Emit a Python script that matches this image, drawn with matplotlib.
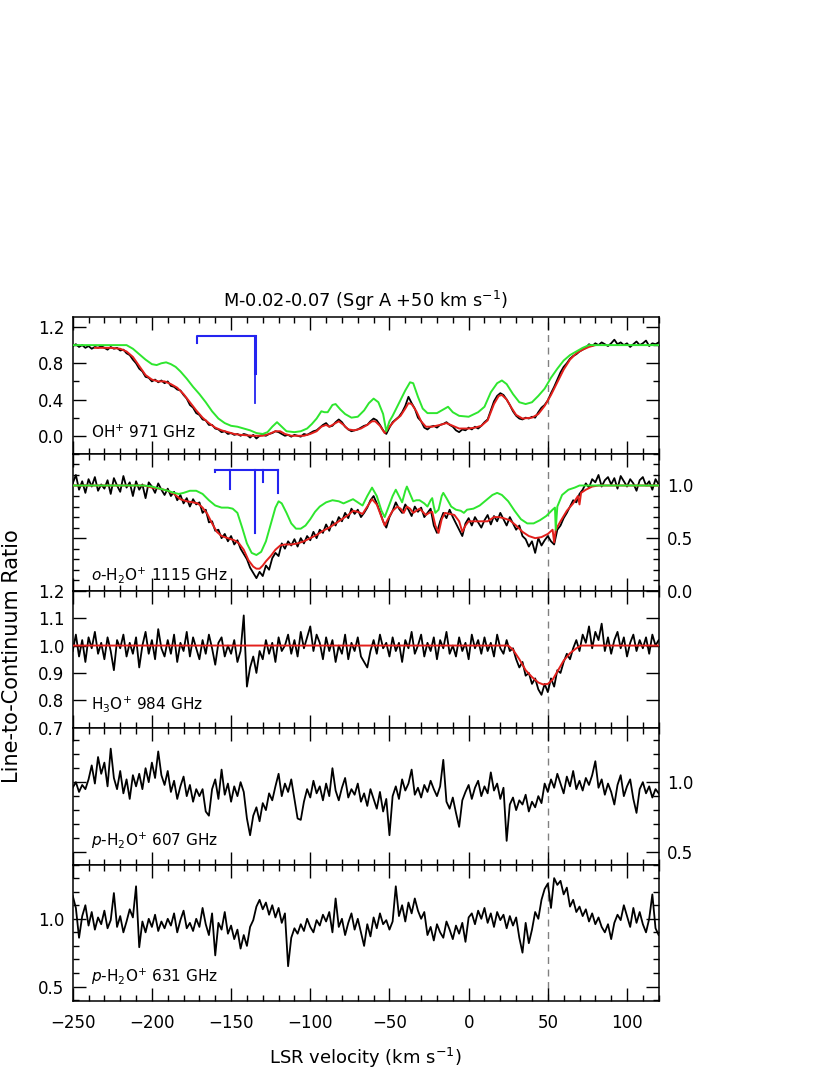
import numpy as np
import matplotlib
matplotlib.use("Agg")
import matplotlib.pyplot as plt
from matplotlib.ticker import MultipleLocator, FormatStrFormatter

plt.rcParams['font.family'] = ['DejaVu Sans']
plt.rcParams['mathtext.fontset'] = 'dejavusans'

# ---------------- data (channel grid: -250 km/s, step 2 km/s) ----------------
V_START = -250.0
V_STEP = 2.0

oh_obs = [
    0.99, 1.01, 0.98, 1.00, 0.97, 0.99, 0.96, 0.98, 0.97, 0.99,
    0.97, 0.95, 0.98, 0.96, 0.97, 0.94, 0.95, 0.91, 0.89, 0.84,
    0.80, 0.74, 0.71, 0.65, 0.64, 0.60, 0.62, 0.59, 0.61, 0.58,
    0.60, 0.55, 0.54, 0.51, 0.50, 0.45, 0.41, 0.34, 0.31, 0.25,
    0.23, 0.18, 0.17, 0.12, 0.12, 0.08, 0.07, 0.04, 0.05, 0.02,
    0.03, 0.01, 0.02, 0.00, 0.02, 0.01, -0.02, 0.01, -0.03, 0.00,
    0.01, 0.00, 0.02, 0.03, 0.05, 0.04, 0.02, 0.00, 0.01, -0.01,
    0.01, 0.00, -0.01, 0.02, 0.01, 0.03, 0.05, 0.06, 0.09, 0.12,
    0.14, 0.10, 0.11, 0.15, 0.18, 0.15, 0.10, 0.07, 0.05, 0.06,
    0.07, 0.09, 0.11, 0.12, 0.16, 0.19, 0.17, 0.12, 0.06, 0.02,
    0.09, 0.15, 0.18, 0.21, 0.26, 0.33, 0.43, 0.36, 0.30, 0.20,
    0.16, 0.09, 0.07, 0.10, 0.11, 0.09, 0.12, 0.13, 0.15, 0.12,
    0.10, 0.06, 0.04, 0.07, 0.06, 0.09, 0.07, 0.10, 0.08, 0.11,
    0.15, 0.18, 0.28, 0.38, 0.44, 0.47, 0.45, 0.40, 0.34, 0.27,
    0.22, 0.19, 0.18, 0.20, 0.19, 0.21, 0.20, 0.26, 0.31, 0.34,
    0.39, 0.47, 0.54, 0.62, 0.70, 0.76, 0.80, 0.85, 0.88, 0.90,
    0.93, 0.95, 0.97, 1.01, 0.99, 1.02, 1.00, 1.03, 1.01, 0.99,
    1.02, 1.06, 1.01, 1.03, 1.00, 1.02, 0.98, 1.01, 1.04, 1.00,
    1.02, 1.05, 0.99, 1.02, 1.01, 1.03,
]

oh_fit_v = [-236, -226, -220, -216, -212, -208, -204, -200, -196, -192, -188, -184,
            -180, -176, -172, -168, -164, -160, -156, -152, -148, -144, -136, -130,
            -126, -122, -119, -116, -112, -104, -100, -96, -93, -90, -88, -85, -82,
            -79, -76, -72, -68, -64, -61, -59, -56, -53, -50, -47, -43, -40, -38,
            -36, -33, -30, -27, -23, -18, -14, -10, -6, 0, 4, 8, 12, 16, 19, 21, 24,
            27, 30, 34, 40, 44, 48, 52, 56, 60, 64, 68, 72, 76, 80]
oh_fit = [0.97, 0.97, 0.96, 0.93, 0.87, 0.77, 0.67, 0.62, 0.60, 0.60, 0.57, 0.53,
          0.46, 0.37, 0.28, 0.20, 0.14, 0.09, 0.06, 0.04, 0.02, 0.01, 0.00, 0.00,
          0.02, 0.05, 0.05, 0.02, 0.00, 0.00, 0.02, 0.05, 0.10, 0.12, 0.10, 0.13, 0.16,
          0.12, 0.07, 0.06, 0.08, 0.12, 0.16, 0.16, 0.11, 0.03, 0.10, 0.16, 0.22, 0.30, 0.36,
          0.35, 0.27, 0.16, 0.10, 0.10, 0.12, 0.14, 0.11, 0.08, 0.08, 0.09, 0.11, 0.17, 0.35, 0.44, 0.45, 0.40,
          0.31, 0.23, 0.19, 0.20, 0.24, 0.33, 0.45, 0.59, 0.73, 0.84, 0.91, 0.95, 0.98, 1.00]

oh_h2o_v = [-250, -216, -212, -208, -204, -200, -197, -194, -191, -188, -185, -182, -178,
            -174, -170, -166, -162, -158, -154, -150, -146, -142, -138, -134, -130, -127,
            -124, -121, -118, -115, -110, -106, -102, -99, -96, -93, -91, -89, -86, -84,
            -81, -78, -74, -70, -66, -63, -60, -57, -54, -52, -50, -48, -44, -40, -37,
            -35, -32, -29, -26, -20, -16, -13, -10, -6, 0, 6, 10, 14, 18, 21, 24, 28, 32,
            36, 40, 44, 48, 52, 56, 60, 64, 68, 72, 76, 120]
oh_h2o = [1.00, 1.00, 0.96, 0.90, 0.84, 0.79, 0.78, 0.80, 0.81, 0.79, 0.76, 0.71, 0.63,
          0.54, 0.46, 0.37, 0.27, 0.19, 0.14, 0.11, 0.10, 0.08, 0.06, 0.03, 0.02, 0.04,
          0.10, 0.15, 0.10, 0.05, 0.04, 0.05, 0.08, 0.13, 0.19, 0.27, 0.26, 0.26, 0.34, 0.35,
          0.29, 0.24, 0.20, 0.21, 0.28, 0.36, 0.41, 0.37, 0.24, 0.05, 0.16, 0.22, 0.36, 0.50, 0.59,
          0.58, 0.43, 0.30, 0.25, 0.25, 0.29, 0.32, 0.26, 0.22, 0.21, 0.26, 0.32, 0.48, 0.58, 0.61, 0.57, 0.46, 0.37,
          0.35, 0.37, 0.44, 0.52, 0.64, 0.74, 0.83, 0.89, 0.93, 0.97, 1.00, 1.00]

oh_comp_v = [-171.5, -135.0]
oh_comp_top = [1.10, 1.10]
oh_comp_bottom = [1.02, 0.69]
oh_comp_weak_v = -135.0
oh_comp_weak_bottom = 0.36

oh2o_obs = [
    1.02, 1.10, 0.96, 1.04, 0.93, 1.06, 0.99, 1.08, 0.95, 1.01,
    0.97, 1.05, 0.92, 1.07, 1.00, 0.94, 1.09, 0.98, 1.03, 0.90,
    1.04, 0.96, 1.01, 0.88, 1.03, 0.99, 0.93, 1.02, 0.96, 0.91,
    0.97, 0.90, 0.94, 0.86, 0.91, 0.83, 0.88, 0.80, 0.87, 0.82,
    0.84, 0.74, 0.77, 0.65, 0.66, 0.57, 0.58, 0.50, 0.54, 0.47,
    0.52, 0.44, 0.48, 0.40, 0.35, 0.30, 0.22, 0.17, 0.12, 0.18,
    0.14, 0.24, 0.20, 0.31, 0.36, 0.33, 0.45, 0.40, 0.47, 0.43,
    0.49, 0.42, 0.50, 0.45, 0.52, 0.48, 0.56, 0.50, 0.58, 0.55,
    0.63, 0.57, 0.66, 0.62, 0.70, 0.66, 0.74, 0.69, 0.78, 0.73,
    0.77, 0.70, 0.74, 0.79, 0.86, 0.90, 0.83, 0.75, 0.66, 0.60,
    0.70, 0.76, 0.84, 0.78, 0.74, 0.82, 0.77, 0.71, 0.80, 0.75,
    0.79, 0.70, 0.74, 0.78, 0.62, 0.55, 0.66, 0.74, 0.69, 0.77,
    0.70, 0.64, 0.58, 0.52, 0.64, 0.69, 0.62, 0.70, 0.65, 0.60,
    0.67, 0.72, 0.63, 0.71, 0.66, 0.74, 0.68, 0.62, 0.70, 0.64,
    0.58, 0.62, 0.52, 0.49, 0.42, 0.47, 0.36, 0.50, 0.43, 0.48,
    0.52, 0.47, 0.44, 0.58, 0.62, 0.69, 0.74, 0.80, 0.86, 0.84,
    0.92, 0.96, 1.02, 0.98, 1.06, 1.03, 1.10, 0.99, 1.05, 1.08,
    1.01, 1.07, 0.97, 1.09, 1.04, 0.99, 1.06, 1.02, 0.95, 1.05,
    1.08, 1.00, 1.04, 0.96, 1.06, 1.01,
]

oh2o_fit_v = [-250, -205, -200, -195, -190, -186, -182, -178, -174, -171, -168, -165,
              -162, -159, -156, -152, -148, -145, -142, -139, -136, -134, -132, -130,
              -128, -125, -122, -119, -116, -112, -108, -104, -100, -96, -92, -88, -84,
              -80, -76, -73, -70, -67, -64, -61, -58, -55, -53, -51, -48, -45, -43, -41,
              -39, -37, -35, -33, -31, -29, -27, -25, -23, -21, -19, -17, -15, -12, -9,
              -6, -4, -2, 0, 4, 8, 12, 16, 19, 22, 26, 30, 34, 38, 42, 46, 50, 53, 54,
              55, 58, 62, 66, 69, 70, 71, 74, 78, 82, 120]
oh2o_fit = [1.00, 1.00, 0.98, 0.97, 0.95, 0.92, 0.87, 0.85, 0.84, 0.83, 0.79, 0.73,
            0.64, 0.56, 0.52, 0.50, 0.48, 0.45, 0.39, 0.29, 0.23, 0.21, 0.21, 0.24,
            0.28, 0.33, 0.39, 0.43, 0.44, 0.44, 0.45, 0.47, 0.50, 0.53, 0.57, 0.60, 0.64,
            0.68, 0.72, 0.76, 0.75, 0.73, 0.80, 0.87, 0.82, 0.70, 0.62, 0.68, 0.76, 0.80, 0.78, 0.74,
            0.80, 0.78, 0.74, 0.76, 0.78, 0.75, 0.72, 0.74, 0.75, 0.62, 0.55, 0.68, 0.74, 0.73, 0.72,
            0.66, 0.56, 0.62, 0.66, 0.66, 0.66, 0.66, 0.70, 0.70, 0.69, 0.67, 0.62, 0.56, 0.52, 0.50, 0.51, 0.54, 0.58, 0.46,
            0.58, 0.66, 0.76, 0.83, 0.90, 0.82, 0.93, 0.96, 0.99, 1.00, 1.00]

oh2o_h2o_v = [-250, -205, -200, -195, -190, -186, -183, -180, -176, -172, -168, -164,
              -160, -156, -152, -149, -146, -143, -140, -137, -134, -131, -128, -125,
              -122, -120, -118, -115, -112, -109, -106, -103, -100, -97, -94, -90, -86,
              -82, -79, -76, -73, -70, -67, -64, -61, -58, -55, -53, -51, -48, -46, -44,
              -42, -40, -39, -37, -35, -33, -31, -28, -26, -24, -23, -22, -21, -19, -17,
              -16, -14, -11, -8, -5, -3, -1, 3, 7, 11, 15, 18, 21, 25, 29, 33, 37, 41, 45,
              49, 53, 54.5, 55, 56, 59, 63, 67, 70, 120]
oh2o_h2o = [1.00, 1.00, 0.99, 0.97, 0.95, 0.93, 0.92, 0.93, 0.95, 0.95, 0.92, 0.86,
            0.81, 0.79, 0.79, 0.78, 0.74, 0.60, 0.45, 0.36, 0.34, 0.37, 0.47, 0.63,
            0.79, 0.85, 0.83, 0.74, 0.64, 0.59, 0.59, 0.62, 0.68, 0.75, 0.80, 0.84, 0.86,
            0.85, 0.83, 0.85, 0.87, 0.84, 0.81, 0.90, 0.98, 0.90, 0.76, 0.70, 0.78, 0.90, 0.96, 0.90,
            0.84, 0.95, 0.99, 0.92, 0.85, 0.86, 0.86, 0.83, 0.80, 0.86, 0.88, 0.80, 0.74, 0.77, 0.90,
            0.93, 0.88, 0.80, 0.77, 0.76, 0.74, 0.77, 0.78, 0.81, 0.86, 0.91, 0.93, 0.91, 0.85, 0.76, 0.68, 0.64, 0.64, 0.67,
            0.71, 0.77, 0.79, 0.58, 0.80, 0.91, 0.96, 0.98, 1.00, 1.00]

oh2o_comb_left, oh2o_comb_right, oh2o_comb_top = -160.2, -120.2, 1.148
oh2o_comp_v = [-160.2, -150.7, -135.0, -130.0, -120.2]
oh2o_comp_bottom = [1.13, 0.97, 0.55, 1.03, 0.93]

h3o_obs = [
    0.98, 1.04, 0.96, 1.02, 0.94, 1.03, 0.99, 1.05, 0.97, 1.01,
    0.95, 1.03, 0.98, 0.91, 1.02, 0.99, 1.04, 0.96, 1.01, 0.97,
    1.03, 0.92, 1.00, 1.05, 0.97, 1.02, 0.95, 1.06, 0.99, 0.96,
    1.02, 0.97, 1.04, 0.94, 1.01, 0.98, 1.05, 0.96, 1.03, 0.99,
    0.95, 1.02, 0.97, 1.04, 0.99, 0.93, 1.01, 1.03, 0.96, 1.00,
    0.97, 1.02, 0.94, 0.98, 1.11, 0.85, 0.92, 0.96, 0.90, 0.98,
    0.95, 1.02, 0.97, 1.01, 0.94, 1.03, 0.98, 1.00, 1.04, 0.97,
    1.02, 0.96, 1.05, 0.99, 1.03, 1.07, 0.98, 1.04, 1.01, 0.95,
    1.03, 0.98, 1.02, 0.94, 1.00, 0.97, 1.04, 0.95, 1.01, 0.98,
    1.03, 0.96, 0.94, 0.92, 0.98, 1.02, 0.97, 1.04, 0.99, 1.01,
    0.96, 1.03, 0.98, 1.01, 0.94, 1.02, 0.99, 1.05, 0.97, 1.00,
    1.04, 0.96, 1.01, 0.98, 1.03, 0.95, 1.02, 0.99, 1.05, 0.97,
    1.00, 0.96, 1.03, 0.98, 1.01, 0.95, 1.04, 0.99, 1.02, 0.97,
    1.03, 0.98, 1.01, 0.96, 1.04, 0.99, 0.97, 1.02, 0.98, 0.99,
    0.95, 0.92, 0.94, 0.89, 0.90, 0.86, 0.88, 0.84, 0.82, 0.86,
    0.83, 0.88, 0.85, 0.91, 0.90, 0.94, 0.97, 0.95, 0.99, 1.02,
    0.98, 1.04, 1.01, 1.07, 0.99, 1.05, 1.02, 1.08, 0.98, 1.03,
    0.97, 1.02, 1.05, 0.99, 1.03, 0.96, 1.01, 1.04, 0.98, 1.02,
    0.99, 1.03, 0.97, 1.04, 1.00, 1.02,
]

h3o_fit_v = [-250, 25, 28, 32, 36, 40, 44, 47, 50, 53, 56, 60, 64, 68, 71, 120]
h3o_fit = [1.0, 1.0, 0.985, 0.95, 0.91, 0.885, 0.865, 0.858, 0.86, 0.875, 0.905,
           0.945, 0.972, 0.99, 1.0, 1.0]

ph2o607_obs = [
    0.96, 1.00, 0.93, 0.98, 0.95, 1.02, 1.12, 0.99, 1.18, 1.06,
    1.14, 0.97, 1.24, 1.03, 0.95, 1.08, 0.92, 1.02, 0.88, 1.05,
    0.97, 1.06, 0.95, 1.10, 1.00, 1.14, 1.03, 1.22, 1.05, 0.98,
    1.08, 0.93, 1.01, 0.88, 0.97, 1.04, 0.90, 0.98, 0.86, 0.95,
    0.90, 0.95, 0.79, 0.76, 0.95, 1.02, 0.88, 1.09, 0.91, 0.99,
    0.86, 0.97, 0.90, 1.00, 0.93, 0.74, 0.62, 0.76, 0.82, 0.72,
    0.85, 0.80, 0.92, 0.87, 0.97, 1.06, 0.90, 0.99, 0.93, 1.02,
    0.88, 0.74, 0.73, 0.86, 0.95, 0.89, 1.01, 0.92, 0.97, 0.87,
    0.99, 0.90, 1.10, 0.94, 0.87, 0.96, 1.03, 0.89, 0.95, 0.91,
    0.99, 0.86, 0.92, 0.83, 0.95, 0.88, 0.81, 0.93, 0.79, 0.88,
    0.62, 0.90, 0.97, 0.88, 1.02, 0.94, 0.99, 1.09, 0.91, 0.96,
    0.89, 0.98, 0.93, 1.01, 0.95, 0.90, 0.97, 1.16, 0.86, 0.81,
    0.89, 0.78, 0.68, 0.87, 0.93, 0.98, 0.88, 0.96, 1.01, 0.90,
    0.97, 0.92, 1.07, 0.94, 0.99, 0.88, 0.96, 0.58, 0.84, 0.89,
    0.80, 0.87, 0.84, 0.91, 0.79, 0.86, 0.82, 0.90, 0.85, 0.99,
    0.93, 1.02, 0.96, 1.06, 0.99, 0.92, 1.04, 0.97, 1.08, 0.95,
    1.01, 0.94, 1.03, 0.98, 1.05, 1.15, 0.96, 1.02, 0.91, 0.99,
    0.93, 0.84, 0.98, 1.05, 0.90, 0.97, 1.02, 0.88, 0.78, 0.95,
    1.00, 0.92, 0.97, 0.89, 0.95, 0.92,
]

ph2o631_obs = [
    1.17, 1.08, 0.86, 1.02, 1.10, 0.95, 1.05, 0.92, 1.01, 0.96,
    1.06, 0.93, 0.99, 1.19, 0.94, 1.02, 0.90, 0.98, 1.07, 1.01,
    1.24, 0.79, 0.98, 0.90, 1.00, 0.94, 1.03, 0.91, 0.98, 0.93,
    1.00, 0.95, 1.04, 0.90, 0.99, 1.06, 0.93, 0.97, 0.91, 1.00,
    0.94, 1.08, 0.96, 0.88, 1.04, 0.73, 0.97, 0.92, 1.05, 0.89,
    0.95, 0.85, 0.92, 0.78, 0.88, 0.80, 0.94, 0.99, 1.09, 1.14,
    1.07, 1.12, 1.03, 1.10, 1.01, 1.08, 0.97, 1.04, 0.65, 0.86,
    0.93, 0.89, 0.96, 0.91, 1.00, 0.94, 0.90, 0.99, 0.95, 1.03,
    0.98, 1.05, 0.90, 1.15, 0.94, 1.00, 0.88, 0.97, 1.04, 0.92,
    1.00, 0.90, 0.80, 0.96, 0.87, 1.01, 0.93, 1.04, 0.96, 0.99,
    0.92, 0.98, 1.24, 1.02, 1.10, 0.98, 1.12, 1.04, 1.15, 1.06,
    1.00, 1.05, 0.88, 0.94, 0.84, 0.96, 0.90, 0.86, 0.98, 0.92,
    0.85, 0.95, 0.89, 0.97, 0.83, 1.01, 1.04, 0.96, 1.06, 1.00,
    1.08, 0.97, 1.04, 0.94, 1.05, 0.99, 1.03, 0.93, 1.02, 0.95,
    1.01, 0.86, 0.75, 0.97, 0.82, 0.92, 1.05, 1.00, 1.14, 1.22,
    1.26, 1.08, 1.30, 1.25, 1.28, 1.18, 1.23, 1.09, 1.14, 1.05,
    1.09, 1.02, 1.07, 0.98, 1.04, 0.96, 1.01, 0.94, 0.90, 0.96,
    0.85, 0.97, 1.03, 0.99, 1.10, 1.02, 0.94, 1.08, 0.97, 1.05,
    0.96, 0.90, 1.00, 1.18, 0.93, 0.88,
]

panel_labels = [r"OH$^{+}$ 971 GHz",
                r"$o$-H$_{2}$O$^{+}$ 1115 GHz",
                r"H$_{3}$O$^{+}$ 984 GHz",
                r"$p$-H$_{2}$O$^{+}$ 607 GHz",
                r"$p$-H$_{2}$O$^{+}$ 631 GHz"]
title_text = r"M-0.02-0.07 (Sgr A +50 km s$^{-1}$)"
x_title = r"LSR velocity (km s$^{-1}$)"
y_title = "Line-to-Continuum Ratio"
source_velocity = 50.0
x_limits = (-250, 120)

# ---------------- styling ----------------
BLACK = '#000000'
RED = '#e3201c'
GREEN = '#2ee62e'
BLUE = '#2424f0'
GREY = '#808080'
OBS_LW = 1.3


def grid_for(arr):
    return V_START + V_STEP * np.arange(len(arr))


fig = plt.figure(figsize=(8.3, 10.75), dpi=100)
gs = fig.add_gridspec(5, 1, left=0.0876, right=0.7936, bottom=0.0684,
                      top=0.7051, hspace=0)
axes = [fig.add_subplot(gs[i]) for i in range(5)]

# panel 1
ax = axes[0]
ax.plot(grid_for(oh_obs), oh_obs, color=BLACK, lw=OBS_LW, zorder=2)
ax.plot(oh_fit_v, oh_fit, color=RED, lw=1.4, zorder=3)
ax.plot(oh_h2o_v, oh_h2o, color=GREEN, lw=1.4, zorder=4)
ax.plot([oh_comp_v[0], oh_comp_v[0], oh_comp_v[1]],
        [oh_comp_bottom[0], oh_comp_top[0], oh_comp_top[1]], color=BLUE, lw=1.5, zorder=5)
ax.plot([oh_comp_v[1], oh_comp_v[1]], [oh_comp_top[1], oh_comp_bottom[1]],
        color=BLUE, lw=2.2, zorder=5)
ax.plot([oh_comp_weak_v, oh_comp_weak_v], [oh_comp_top[1], oh_comp_weak_bottom],
        color=BLUE, lw=1.3, zorder=5)
ax.set_ylim(-0.2, 1.31)
ax.yaxis.set_major_locator(MultipleLocator(0.4))
ax.yaxis.set_minor_locator(MultipleLocator(0.2))

# panel 2
ax = axes[1]
ax.plot(grid_for(oh2o_obs), oh2o_obs, color=BLACK, lw=OBS_LW, zorder=2)
ax.plot(oh2o_fit_v, oh2o_fit, color=RED, lw=1.4, zorder=3)
ax.plot(oh2o_h2o_v, oh2o_h2o, color=GREEN, lw=1.4, zorder=4)
ax.plot([oh2o_comb_left, oh2o_comb_right], [oh2o_comb_top, oh2o_comb_top],
        color=BLUE, lw=1.5, zorder=5)
for cv, cb in zip(oh2o_comp_v, oh2o_comp_bottom):
    ax.plot([cv, cv], [oh2o_comb_top, cb], color=BLUE, lw=1.5, zorder=5)
ax.set_ylim(0.0, 1.3)
ax.yaxis.set_major_locator(MultipleLocator(0.5))
ax.yaxis.set_minor_locator(MultipleLocator(0.1))

# panel 3
ax = axes[2]
ax.plot(grid_for(h3o_obs), h3o_obs, color=BLACK, lw=OBS_LW, zorder=2)
ax.plot(h3o_fit_v, h3o_fit, color=RED, lw=1.4, zorder=3)
ax.set_ylim(0.7, 1.2)
ax.yaxis.set_major_locator(MultipleLocator(0.1))

# panel 4
ax = axes[3]
ax.plot(grid_for(ph2o607_obs), ph2o607_obs, color=BLACK, lw=OBS_LW, zorder=2)
ax.set_ylim(0.41, 1.39)
ax.yaxis.set_major_locator(MultipleLocator(0.5))
ax.yaxis.set_minor_locator(MultipleLocator(0.1))

# panel 5
ax = axes[4]
ax.plot(grid_for(ph2o631_obs), ph2o631_obs, color=BLACK, lw=OBS_LW, zorder=2)
ax.set_ylim(0.39, 1.40)
ax.yaxis.set_major_locator(MultipleLocator(0.5))
ax.yaxis.set_minor_locator(MultipleLocator(0.1))

label_y = [0.16, 0.115, 0.175, 0.17, 0.18]
right_labels = [False, True, False, True, False]
for i, ax in enumerate(axes):
    ax.set_xlim(*x_limits)
    ax.axvline(source_velocity, color=GREY, lw=1.0, ls=(0, (5, 4)), zorder=1)
    ax.xaxis.set_major_locator(MultipleLocator(50))
    ax.xaxis.set_minor_locator(MultipleLocator(10))
    ax.yaxis.set_major_formatter(FormatStrFormatter('%.1f'))
    ax.tick_params(which='both', direction='in', top=True, bottom=True,
                   left=True, right=True, width=1.0, labelsize=12)
    ax.tick_params(which='major', length=9.5, pad=6)
    ax.tick_params(which='minor', length=4.5)
    ax.tick_params(axis='x', labelbottom=(i == 4), labeltop=False, pad=9)
    ax.tick_params(axis='y', labelleft=not right_labels[i],
                   labelright=right_labels[i])
    for sp in ax.spines.values():
        sp.set_linewidth(1.1)
    ax.text(0.031, label_y[i], panel_labels[i], transform=ax.transAxes,
            fontsize=11, va='center', ha='left', zorder=6)

axes[0].set_title(title_text, fontsize=12.8, pad=7)
axes[4].set_xlabel(x_title, fontsize=13, labelpad=10)
fig.text(0.015, 0.39, y_title, rotation=90, fontsize=15, va='center', ha='center')

fig.savefig("out.png", dpi=100)
